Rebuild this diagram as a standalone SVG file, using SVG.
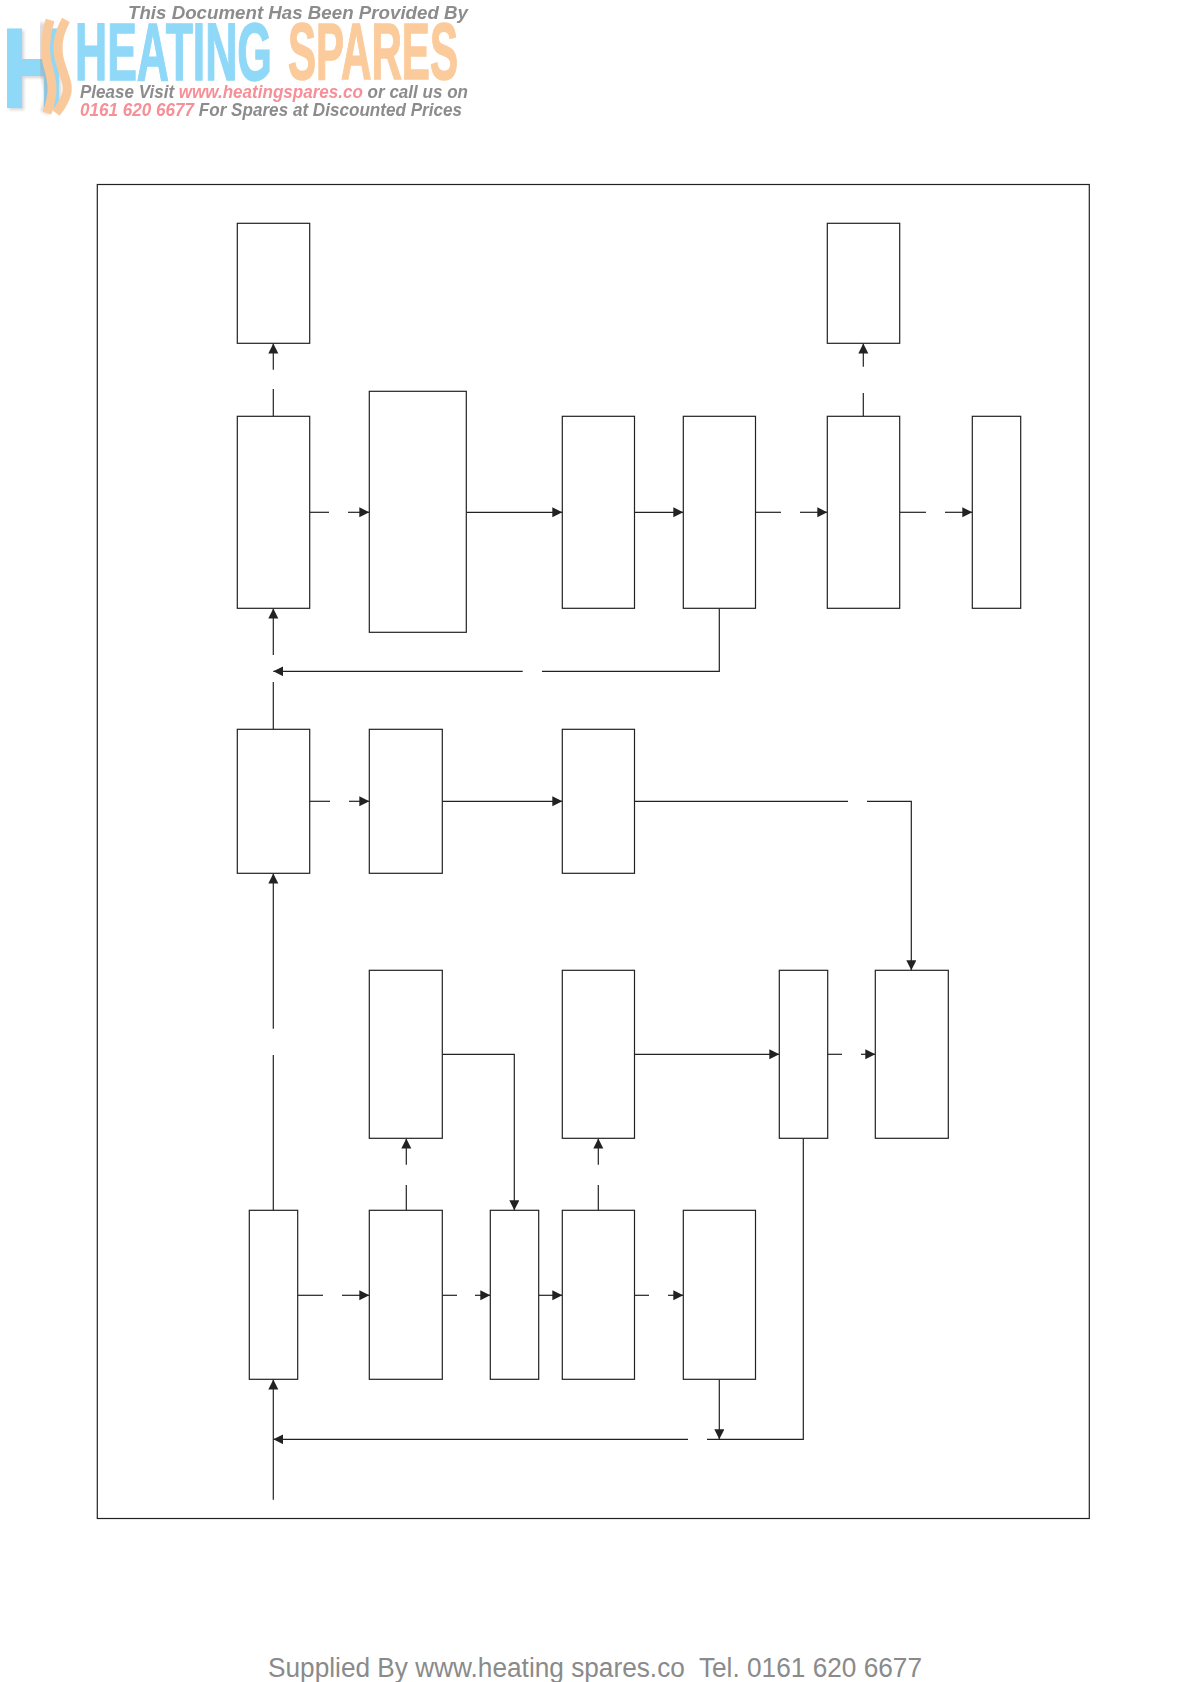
<svg xmlns="http://www.w3.org/2000/svg" width="1190" height="1682" viewBox="0 0 1190 1682">
<style>
.b{fill:#fff;stroke:#222;stroke-width:1.2}
.c{fill:none;stroke:#222;stroke-width:1.2}
.a{marker-end:url(#ah)}
.lg{font-family:"Liberation Sans",Arial,sans-serif;font-weight:700}
.it{font-style:italic;font-size:18.5px;fill:#8c8c8c}
.pk{fill:#f78f97}
.sw{fill:none;stroke:#f9c99b;stroke-width:9}
</style>
<defs>
<marker id="ah" markerUnits="userSpaceOnUse" markerWidth="11" markerHeight="11" refX="10" refY="5" orient="auto"><path d="M0 0L10 5L0 10Z" fill="#222"/></marker>
<filter id="soft" x="-5%" y="-5%" width="110%" height="110%"><feGaussianBlur stdDeviation="0.6"/></filter>
<filter id="sh" x="-20%" y="-20%" width="140%" height="140%"><feGaussianBlur stdDeviation="1.6"/></filter>
</defs>
<rect width="1190" height="1682" fill="#fff"/>
<g id="logo" filter="url(#soft)">
<text class="lg" x="5" y="108" font-size="110" fill="#9a9a9a" stroke="#9a9a9a" stroke-width="4" opacity=".4" textLength="60" lengthAdjust="spacingAndGlyphs" filter="url(#sh)">H</text>
<text class="lg" x="3" y="106" font-size="110" fill="#8fd8f8" stroke="#8fd8f8" stroke-width="4" textLength="60" lengthAdjust="spacingAndGlyphs">H</text>
<path d="M44 23C40 42 41 62 46 78C50 92 49 104 44 113" fill="none" stroke="#999" stroke-width="9" opacity=".35" filter="url(#sh)"/>
<path class="sw" d="M50 20C45 38 44 52 48 66C52 80 55 92 47 113"/>
<path class="sw" d="M66 20C58 34 56 48 60 62C64 76 70 86 66 96C63 104 60 108 56 113"/>
<text class="lg" x="75" y="80" font-size="82" fill="#8fd8f8" stroke="#8fd8f8" stroke-width="1.5" textLength="197" lengthAdjust="spacingAndGlyphs">HEATING</text>
<text class="lg" x="288" y="79" font-size="80" fill="#fbcb9b" stroke="#fbcb9b" stroke-width="1.5" textLength="170" lengthAdjust="spacingAndGlyphs">SPARES</text>
<text class="lg it" x="128" y="19" textLength="340" lengthAdjust="spacingAndGlyphs">This Document Has Been Provided By</text>
<text class="lg it" x="80" y="98" textLength="388" lengthAdjust="spacingAndGlyphs">Please Visit <tspan class="pk">www.heatingspares.co</tspan> or call us on</text>
<text class="lg it" x="80" y="116" textLength="382" lengthAdjust="spacingAndGlyphs"><tspan class="pk">0161 620 6677</tspan> For Spares at Discounted Prices</text>
</g>
<rect id="frame" x="97.3" y="184.5" width="992" height="1334" fill="none" stroke="#222" stroke-width="1.2"/>
<g id="connectors">
<path class="c a" d="M273.3 369.7V343.5"/><path class="c" d="M273.3 416.3V389"/>
<path class="c a" d="M863.3 366.7V343.5"/><path class="c" d="M863.3 416.3V393"/>
<path class="c" d="M309.7 512.3H329"/><path class="c a" d="M348 512.3H369.3"/>
<path class="c a" d="M466.3 512.3H562.3"/>
<path class="c a" d="M634.3 512.3H683.3"/>
<path class="c" d="M755.3 512.3H781"/><path class="c a" d="M800 512.3H827.3"/>
<path class="c" d="M899.7 512.3H926"/><path class="c a" d="M945 512.3H972.3"/>
<path class="c" d="M719.3 608.3V671.3H542"/><path class="c a" d="M522.7 671.3H273.3"/>
<path class="c a" d="M273.3 655V608.5"/><path class="c" d="M273.3 729.3V682"/>
<path class="c" d="M309.7 801.3H330"/><path class="c a" d="M349 801.3H369.3"/>
<path class="c a" d="M442.3 801.3H562.3"/>
<path class="c" d="M634.5 801.3H848"/><path class="c a" d="M867 801.3H911.3V970.3"/>
<path class="c a" d="M273.3 1028.7V873.5"/><path class="c" d="M273.3 1210.3V1055"/>
<path class="c a" d="M442.3 1054.3H514.3V1210.3"/>
<path class="c a" d="M634.5 1054.3H779.3"/>
<path class="c" d="M827.7 1054.3H842"/><path class="c a" d="M861 1054.3H875.3"/>
<path class="c a" d="M406.3 1164.7V1138.5"/><path class="c" d="M406.3 1210.3V1185"/>
<path class="c a" d="M598.3 1164.7V1138.5"/><path class="c" d="M598.3 1210.3V1185"/>
<path class="c" d="M297.7 1295.3H323"/><path class="c a" d="M342 1295.3H369.3"/>
<path class="c" d="M442.5 1295.3H457"/><path class="c a" d="M475 1295.3H490.3"/>
<path class="c a" d="M538.7 1295.3H562.3"/>
<path class="c" d="M634.5 1295.3H649"/><path class="c a" d="M668 1295.3H683.3"/>
<path class="c a" d="M719.3 1379.3V1439.3"/>
<path class="c" d="M803.3 1138.3V1439.3H707"/><path class="c a" d="M688 1439.3H273.3"/>
<path class="c a" d="M273.3 1499.7V1379.5"/>
</g>
<g id="n1"><rect class="b" x="237.3" y="223.3" width="72.4" height="120"/></g>
<g id="n2"><rect class="b" x="827.3" y="223.3" width="72.4" height="120"/></g>
<g id="n3"><rect class="b" x="237.3" y="416.3" width="72.4" height="192"/></g>
<g id="n4"><rect class="b" x="369.3" y="391.3" width="97" height="241"/></g>
<g id="n5"><rect class="b" x="562.3" y="416.3" width="72.2" height="192"/></g>
<g id="n6"><rect class="b" x="683.3" y="416.3" width="72.2" height="192"/></g>
<g id="n7"><rect class="b" x="827.3" y="416.3" width="72.4" height="192"/></g>
<g id="n8"><rect class="b" x="972.3" y="416.3" width="48.4" height="192"/></g>
<g id="n9"><rect class="b" x="237.3" y="729.3" width="72.4" height="144"/></g>
<g id="n10"><rect class="b" x="369.3" y="729.3" width="73" height="144"/></g>
<g id="n11"><rect class="b" x="562.3" y="729.3" width="72.2" height="144"/></g>
<g id="n12"><rect class="b" x="369.3" y="970.3" width="73" height="168"/></g>
<g id="n13"><rect class="b" x="562.3" y="970.3" width="72.2" height="168"/></g>
<g id="n14"><rect class="b" x="779.3" y="970.3" width="48.4" height="168"/></g>
<g id="n15"><rect class="b" x="875.3" y="970.3" width="73" height="168"/></g>
<g id="n16"><rect class="b" x="249.3" y="1210.3" width="48.4" height="169"/></g>
<g id="n17"><rect class="b" x="369.3" y="1210.3" width="73" height="169"/></g>
<g id="n18"><rect class="b" x="490.3" y="1210.3" width="48.4" height="169"/></g>
<g id="n19"><rect class="b" x="562.3" y="1210.3" width="72.2" height="169"/></g>
<g id="n20"><rect class="b" x="683.3" y="1210.3" width="72.2" height="169"/></g>
<text id="supplied" x="268" y="1677" font-family="'Liberation Sans',Arial,sans-serif" font-size="27" fill="#8a8a8a" textLength="654" lengthAdjust="spacingAndGlyphs" xml:space="preserve">Supplied By www.heating spares.co  Tel. 0161 620 6677</text>
</svg>
